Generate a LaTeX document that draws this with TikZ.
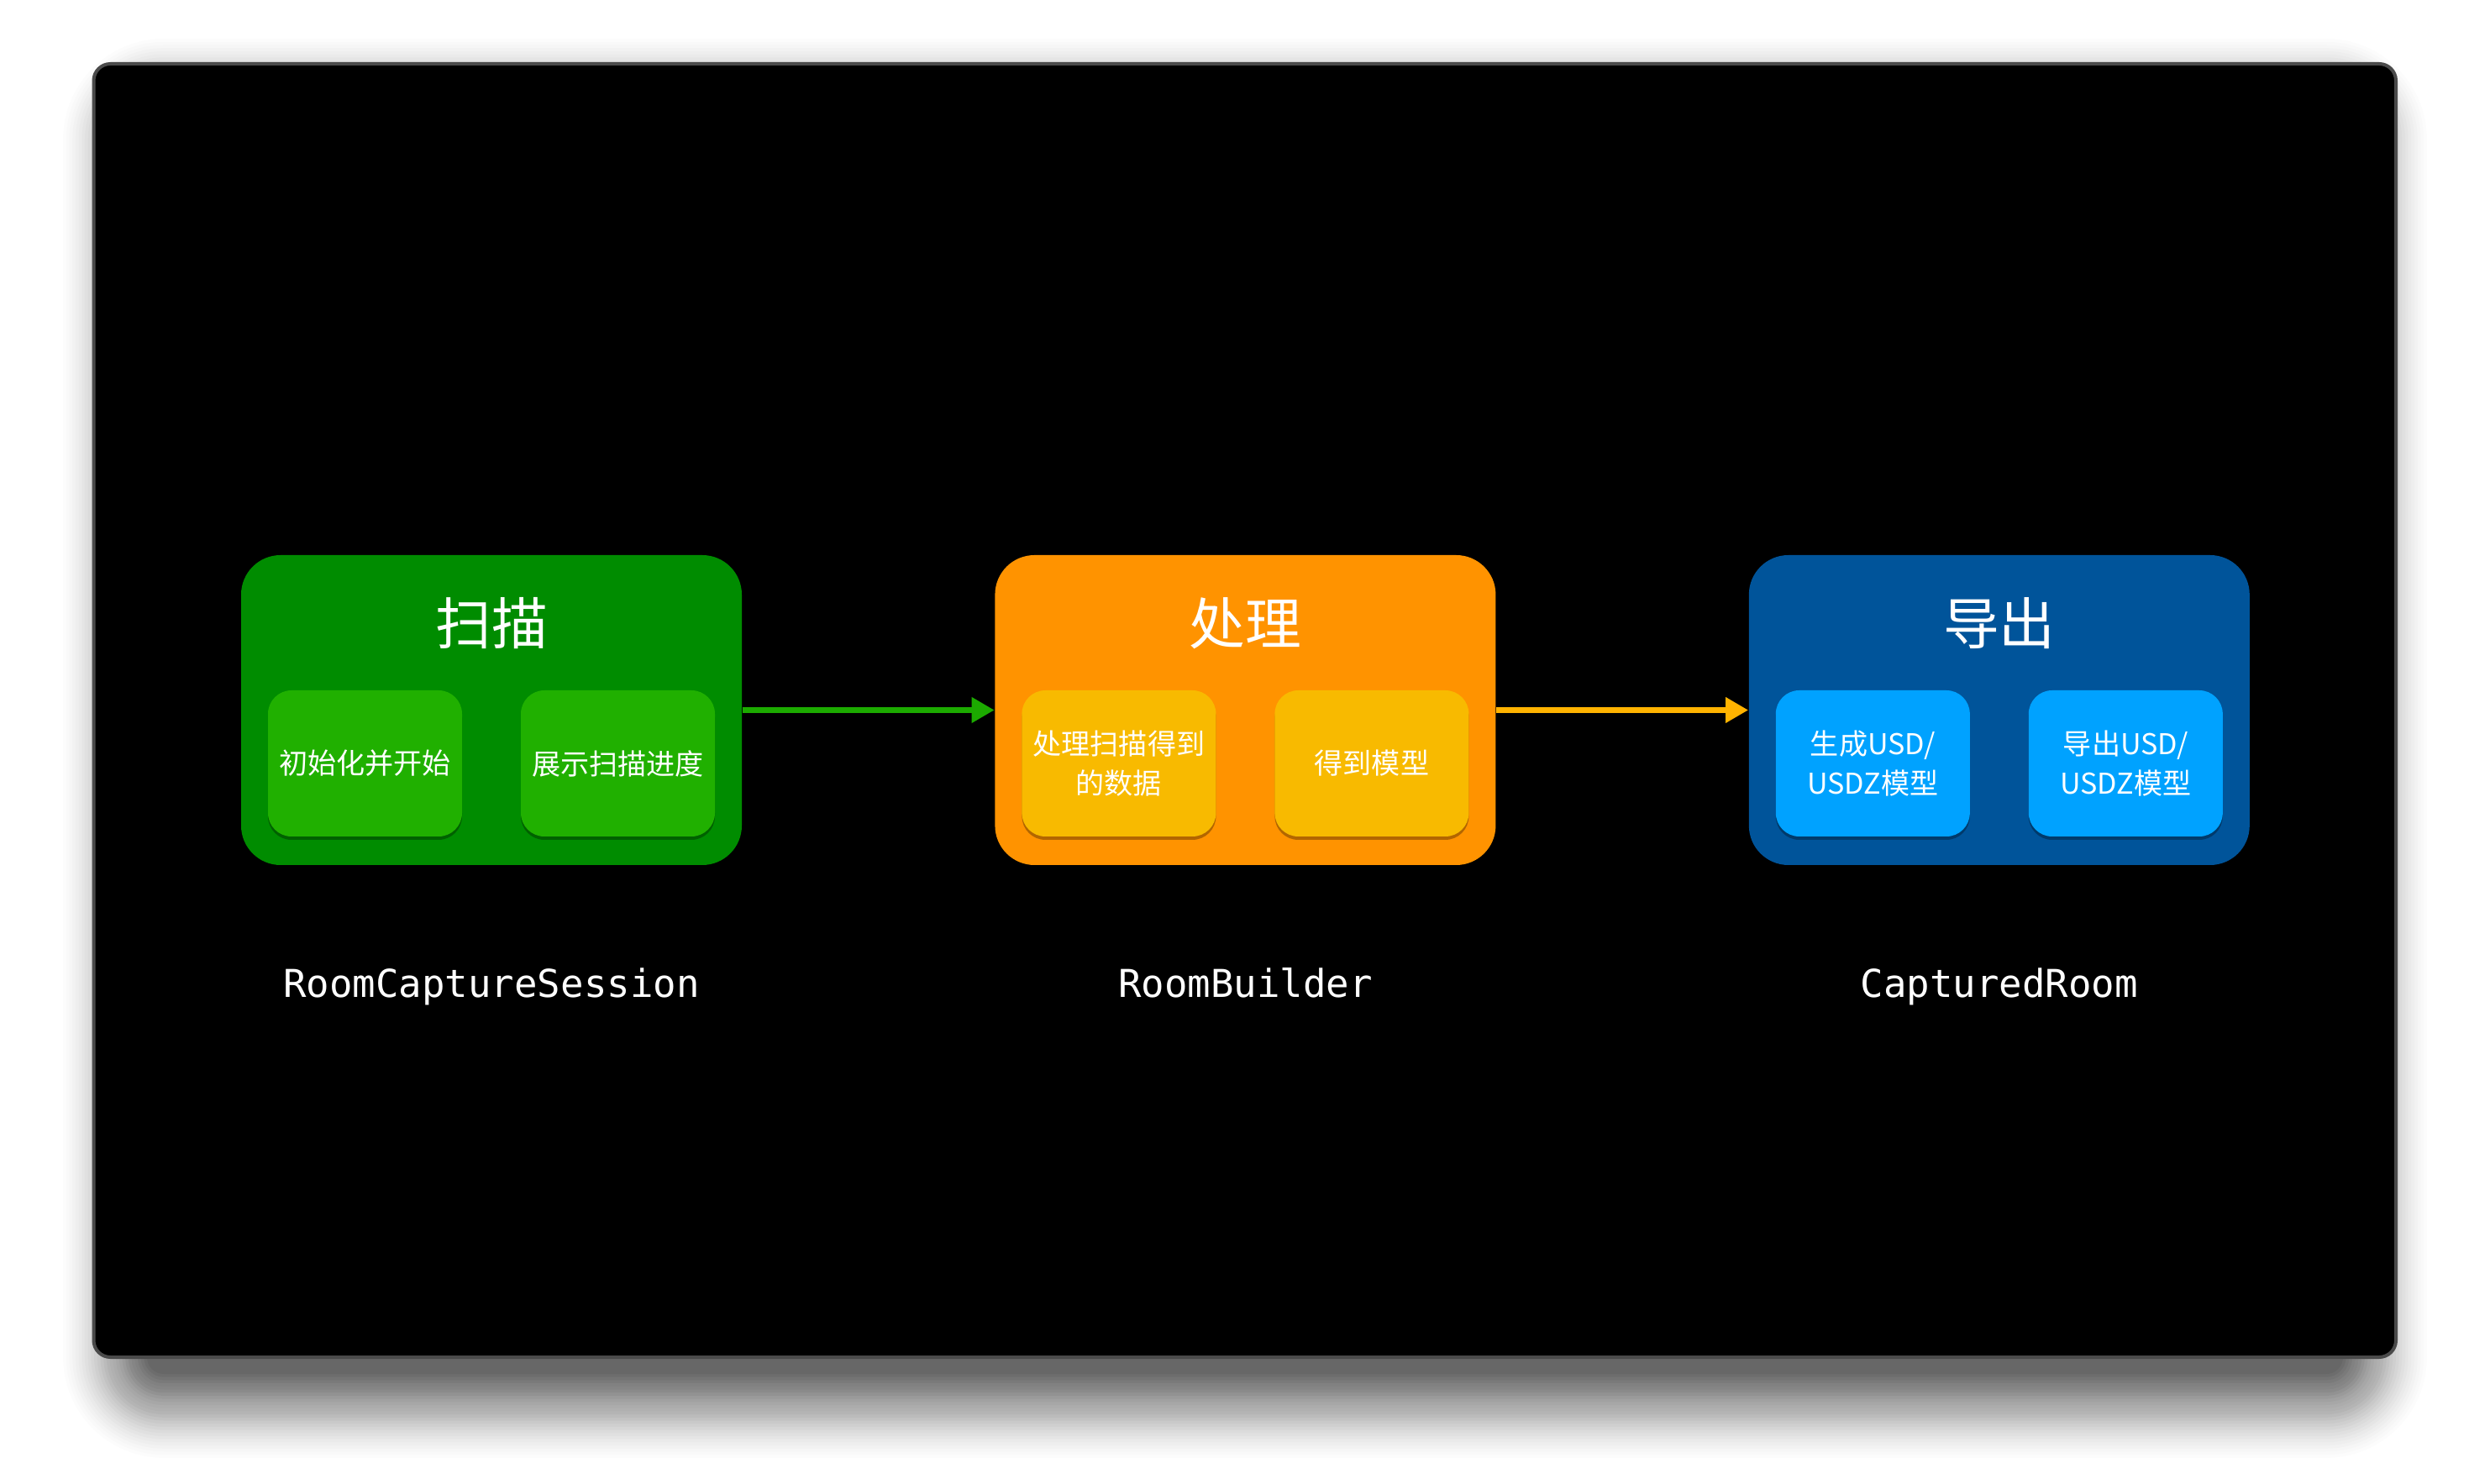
\documentclass[tikz,border=0pt]{standalone}
\usepackage{fontspec}
\setmonofont{DejaVu Sans Mono}
\newfontfamily\cjk{Noto Sans CJK SC}
\usepackage{xcolor}
\usetikzlibrary{arrows.meta,positioning,shadows}
\definecolor{scangreen}{HTML}{008C00}
\definecolor{scanlight}{HTML}{20B000}
\definecolor{scanarrow}{HTML}{1CAA00}
\definecolor{procorange}{HTML}{FF9300}
\definecolor{proclight}{HTML}{F8BA00}
\definecolor{procarrow}{HTML}{FFB300}
\definecolor{exportblue}{HTML}{00549A}
\definecolor{exportlight}{HTML}{00A2FF}
\definecolor{panelrim}{HTML}{4A4A4A}

\begin{document}
\begin{tikzpicture}[>={Triangle[length=0.27cm,width=0.29cm]},shorten >=0pt,node distance=3cm,
 stage/.style={rectangle,rounded corners=0.47cm,minimum width=5.96cm,minimum height=3.69cm,inner sep=0pt},
 task/.style={rectangle,rounded corners=0.28cm,minimum width=2.31cm,minimum height=1.74cm,inner sep=0pt,
  text=white,align=center,font=\cjk\fontsize{9.7}{13.4}\selectfont,
  drop shadow={shadow xshift=0cm,shadow yshift=-0.04cm,opacity=0.3,fill=black}},
 stagetitle/.style={text=white,inner sep=0pt,font=\cjk\fontsize{19}{22}\selectfont},
 api/.style={text=white,inner sep=0pt,anchor=base,font=\ttfamily\fontsize{13}{15}\selectfont}]
 \useasboundingbox (0,0) rectangle (29.64,17.66);
 \fill[white] (0,0) rectangle (29.64,17.66);

 \foreach \s in {0,...,27} {
  \pgfmathsetmacro{\d}{\s*0.037}
  \pgfmathsetmacro{\r}{0.2+\s*0.037}
  \pgfmathsetmacro{\o}{0.046-\s*0.0013}
  \fill[black,opacity=\o,rounded corners=\r cm]
   (1.75-\d,1.30-\d) rectangle (27.89+\d,16.20+\d);
 }
 \draw[panelrim,fill=black,line width=0.04cm,rounded corners=0.2cm] (1.115,1.50) rectangle (28.52,16.90);

 \node[stage,fill=scangreen] (scan) at (5.85,9.205) {};
 \node[stage,fill=procorange,right=of scan] (proc) {};
 \node[stage,fill=exportblue,right=of proc] (export) {};

 \node[stagetitle] (scanT) at ([yshift=-0.82cm]scan.north) {扫描};
 \node[stagetitle] (procT) at ([yshift=-0.82cm]proc.north) {处理};
 \node[stagetitle] (exportT) at ([yshift=-0.82cm]export.north) {导出};

 \node[task,fill=scanlight,anchor=south west] (scanA) at ([shift={(0.32,0.34)}]scan.south west) {初始化并开始};
 \node[task,fill=scanlight,anchor=south east] (scanB) at ([shift={(-0.32,0.34)}]scan.south east) {展示扫描进度};
 \node[task,fill=proclight,anchor=south west] (procA) at ([shift={(0.32,0.34)}]proc.south west) {处理扫描得到\\的数据};
 \node[task,fill=proclight,anchor=south east] (procB) at ([shift={(-0.32,0.34)}]proc.south east) {得到模型};
 \node[task,fill=exportlight,anchor=south west] (exportA) at ([shift={(0.32,0.34)}]export.south west) {生成USD/\\USDZ模型};
 \node[task,fill=exportlight,anchor=south east] (exportB) at ([shift={(-0.32,0.34)}]export.south east) {导出USD/\\USDZ模型};

 \node[api] (scanL) at ([yshift=-1.57cm]scan.south) {RoomCaptureSession};
 \node[api] (procL) at ([yshift=-1.57cm]proc.south) {RoomBuilder};
 \node[api] (exportL) at ([yshift=-1.57cm]export.south) {CapturedRoom};

 \draw[->,scanarrow,line width=0.07cm] (scan) -- (proc);
 \draw[->,procarrow,line width=0.07cm] (proc) -- (export);
\end{tikzpicture}
\end{document}
